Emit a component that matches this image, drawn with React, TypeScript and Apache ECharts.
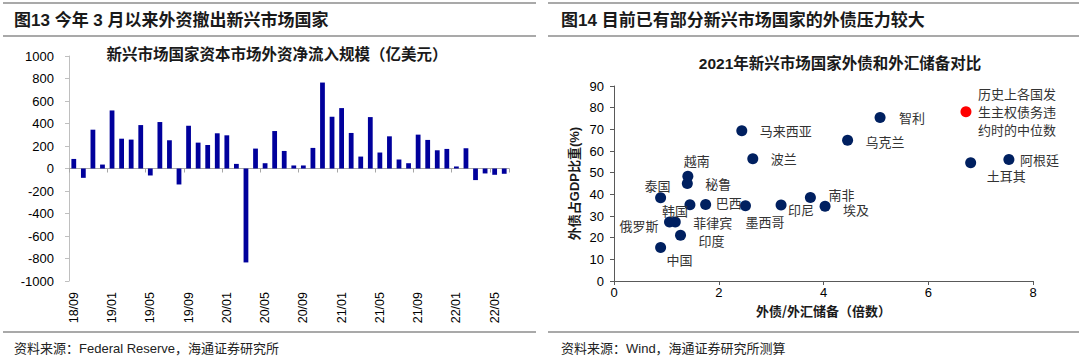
import React, { useEffect, useRef } from "react";
import * as echarts from "echarts";

// ---- Left chart data: EM capital-market net foreign inflows (100m USD) ----
const months = [
  "18/09", "18/10", "18/11", "18/12",
  "19/01", "19/02", "19/03", "19/04", "19/05", "19/06", "19/07", "19/08", "19/09", "19/10", "19/11", "19/12",
  "20/01", "20/02", "20/03", "20/04", "20/05", "20/06", "20/07", "20/08", "20/09", "20/10", "20/11", "20/12",
  "21/01", "21/02", "21/03", "21/04", "21/05", "21/06", "21/07", "21/08", "21/09", "21/10", "21/11", "21/12",
  "22/01", "22/02", "22/03", "22/04", "22/05", "22/06",
];
const netInflows = [
  85, -83, 345, 35, 516, 265, 257, 386, -62, 413, 251, -142, 380, 230, 209, 313, 295, 41,
  -835, 177, 47, 333, 156, 27, 27, 183, 764, 460, 537, 316, 106, 457, 142, 286, 80, 47,
  301, 254, 162, 174, 18, 180, -103, -44, -56, -47,
];

// ---- Right chart data: 2021 external debt vs FX reserves ----
const countries = [
  "马来西亚", "波兰", "越南", "秘鲁", "泰国", "韩国", "巴西", "墨西哥", "印尼", "南非",
  "埃及", "俄罗斯", "菲律宾", "印度", "中国", "智利", "乌克兰", "土耳其", "阿根廷",
];
const debtToReserves = [
  2.44, 2.65, 1.41, 1.40, 0.89, 1.45, 1.75, 2.51, 3.19, 3.75,
  4.03, 1.06, 1.17, 1.27, 0.89, 5.08, 4.46, 6.81, 7.54,
];
const debtToGDP = [
  69.3, 56.4, 48.3, 45.0, 38.4, 35.2, 35.3, 34.7, 35.1, 38.5,
  34.5, 27.2, 27.2, 21.1, 15.5, 75.5, 65.0, 54.6, 56.1,
];
const medianName = "历史上各国发\n生主权债务违\n约时的中位数";
const medianPoint = [6.72, 78.1];

// label placement (style only): [dx of text left edge, dy of text centre]
const labelOffsets: Record<string, [number, number]> = {
  马来西亚: [18, 0], 波兰: [18, 0], 越南: [-4, -16], 秘鲁: [18, 0], 泰国: [-16, -12],
  韩国: [-28, 6], 巴西: [10, -2], 墨西哥: [0, 16], 印尼: [7, 5], 南非: [18, -3],
  埃及: [18, 3], 俄罗斯: [-50, 3], 菲律宾: [18, 0], 印度: [18, 5], 中国: [6, 12],
  智利: [19, 0], 乌克兰: [18, 1], 土耳其: [16, 13], 阿根廷: [11, 0],
};

const FONT = "'Liberation Sans', Arial, 'Noto Sans CJK SC', sans-serif";
const CJK = "'Noto Sans CJK SC', 'Liberation Sans', sans-serif";

export default function App() {
  const ref = useRef<HTMLDivElement>(null);

  useEffect(() => {
    document.body.style.margin = "0";
    if (!ref.current) return;
    const chart = echarts.init(ref.current, undefined, { renderer: "svg" });

    const hLine = (x1: number, x2: number, y: number, w = 1.3) => ({
      type: "line",
      shape: { x1, y1: y, x2, y2: y },
      style: { stroke: "#8c8c8c", lineWidth: w },
      silent: true,
    });
    const txt = (text: string, x: number, y: number, size: number, bold: boolean, align = "left", family = FONT, color = "#1a1a1a") => ({
      type: "text",
      x,
      y,
      style: {
        text,
        font: `${bold ? "bold " : ""}${size}px ${family}`,
        fill: color,
        align,
        verticalAlign: "middle",
      },
      silent: true,
    });

    const option: any = {
      animation: false,
      backgroundColor: "#ffffff",
      graphic: {
        elements: [
          hLine(3, 536, 3),
          hLine(3, 536, 36),
          hLine(3, 536, 332, 1.6),
          hLine(548, 1079, 3),
          hLine(548, 1079, 36),
          hLine(548, 1079, 332, 1.6),
          txt("图13 今年 3 月以来外资撤出新兴市场国家", 14, 20, 17, true),
          txt("图14 目前已有部分新兴市场国家的外债压力较大", 561, 20, 17, true),
          txt("新兴市场国家资本市场外资净流入规模（亿美元）", 277, 53, 15.5, true, "center", CJK),
          txt("2021年新兴市场国家外债和外汇储备对比", 840, 63, 15.5, true, "center"),
          txt("资料来源：Federal Reserve，海通证券研究所", 14, 348, 13, false, "left", FONT, "#222"),
          txt("资料来源：Wind，海通证券研究所测算", 561, 348, 13, false, "left", FONT, "#222"),
        ],
      },
      grid: [
        { left: 69, top: 56, width: 440, height: 225 },
        { left: 614, top: 86, width: 419, height: 195 },
      ],
      xAxis: [
        {
          gridIndex: 0,
          type: "category",
          data: months,
          position: "bottom",
          axisLine: { show: false, onZero: false },
          axisTick: { show: false },
          axisLabel: { interval: 3, rotate: 90, margin: 11, fontSize: 12.5, color: "#000", fontFamily: FONT },
        },
        {
          gridIndex: 0,
          type: "category",
          data: months,
          position: "top",
          axisLine: { show: true, onZero: true, lineStyle: { color: "#a6a6a6", width: 1 } },
          axisTick: { show: true, inside: true, interval: 3, length: 4, lineStyle: { color: "#a6a6a6" } },
          axisLabel: { show: false },
        },
        {
          gridIndex: 1,
          type: "value",
          min: 0,
          max: 8,
          interval: 2,
          name: "外债/外汇储备（倍数）",
          nameLocation: "middle",
          nameGap: 20,
          nameTextStyle: { fontSize: 13, fontWeight: "bold", color: "#1a1a1a", fontFamily: CJK },
          axisLine: { show: true, onZero: false, lineStyle: { color: "#595959" } },
          axisTick: { show: true, length: 4, lineStyle: { color: "#595959" } },
          splitLine: { show: false },
          axisLabel: { margin: 5, fontSize: 13, color: "#000", fontFamily: FONT },
        },
      ],
      yAxis: [
        {
          gridIndex: 0,
          type: "value",
          min: -1000,
          max: 1000,
          interval: 200,
          axisLine: { show: true, lineStyle: { color: "#bfbfbf" } },
          axisTick: { show: true, length: 4, lineStyle: { color: "#bfbfbf" } },
          splitLine: { show: false },
          axisLabel: {
            margin: 15,
            fontSize: 13,
            color: "#000",
            fontFamily: FONT,
            formatter: (v: number) => String(v),
          },
        },
        {
          gridIndex: 1,
          type: "value",
          min: 0,
          max: 90,
          interval: 10,
          name: "外债占GDP比重(%)",
          nameLocation: "middle",
          nameGap: 33,
          nameTextStyle: { fontSize: 13, fontWeight: "bold", color: "#1a1a1a", fontFamily: FONT },
          axisLine: { show: true, onZero: false, lineStyle: { color: "#595959" } },
          axisTick: { show: true, length: 4, lineStyle: { color: "#595959" } },
          splitLine: { show: false },
          axisLabel: { margin: 10, fontSize: 13, color: "#000", fontFamily: FONT },
        },
      ],
      series: [
        {
          type: "bar",
          xAxisIndex: 0,
          yAxisIndex: 0,
          data: netInflows,
          barCategoryGap: "50%",
          itemStyle: { color: "#00009c" },
        },
        {
          type: "scatter",
          xAxisIndex: 2,
          yAxisIndex: 1,
          symbolSize: 11,
          itemStyle: { color: "#002060", opacity: 1 },
          label: {
            show: true,
            position: "inside",
            align: "left",
            verticalAlign: "middle",
            formatter: "{b}",
            fontSize: 13,
            lineHeight: 14,
            color: "#333",
            fontFamily: CJK,
          },
          data: countries.map((name, i) => ({
            name,
            value: [debtToReserves[i], debtToGDP[i]],
            label: { offset: labelOffsets[name] },
          })),
        },
        {
          type: "scatter",
          xAxisIndex: 2,
          yAxisIndex: 1,
          symbolSize: 11,
          itemStyle: { color: "#ff0000", opacity: 1 },
          label: {
            show: true,
            position: "inside",
            align: "left",
            verticalAlign: "middle",
            formatter: "{b}",
            fontSize: 13,
            lineHeight: 18,
            color: "#333",
            fontFamily: CJK,
            offset: [12, 0],
          },
          data: [{ name: medianName, value: medianPoint }],
        },
      ],
    };

    chart.setOption(option);
    return () => chart.dispose();
  }, []);

  return <div ref={ref} style={{ width: 1080, height: 359 }} />;
}
